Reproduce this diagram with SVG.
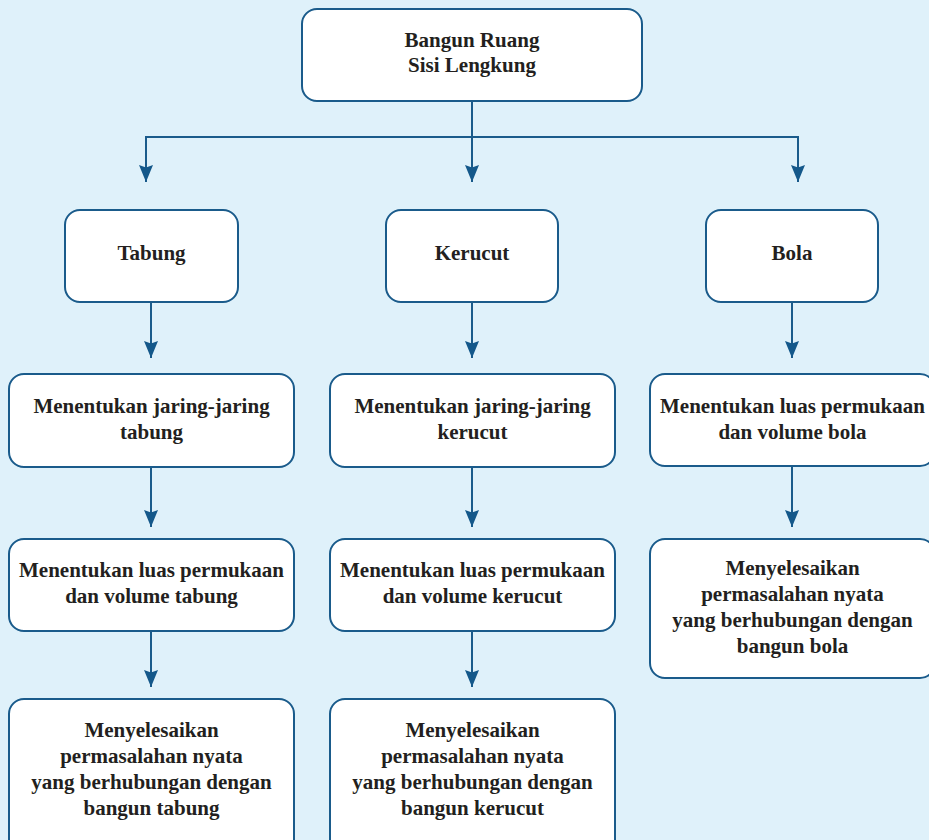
<svg xmlns="http://www.w3.org/2000/svg" width="929" height="840" viewBox="0 0 929 840">
<style>
.box{fill:#ffffff;stroke:#1a5b8b;stroke-width:2}
.t{font-family:"Liberation Serif","Times New Roman",serif;font-weight:bold;font-size:21px;fill:#231f20;text-anchor:middle}
.c{fill:none;stroke:#1a5b8b;stroke-width:2}
.a{fill:none;stroke:#1a5b8b;stroke-width:2;marker-end:url(#ah)}
</style>
<defs>
<marker id="ah" markerUnits="userSpaceOnUse" markerWidth="20" markerHeight="16" viewBox="0 -8 20 16" refX="17" refY="0" orient="auto">
<path d="M0,-7 L17,0 L0,7 L2.5,0 z" fill="#14588a"/>
</marker>
</defs>
<rect x="0" y="0" width="929" height="840" fill="#dff1fa"/>
<g id="connectors">
<path class="c" d="M146,137 L798,137"/>
<path class="a" d="M472,101 L472,182"/>
<path class="a" d="M146,136 L146,182"/>
<path class="a" d="M798,136 L798,182"/>
<path class="a" d="M151,302 L151,358"/>
<path class="a" d="M151,467 L151,527"/>
<path class="a" d="M151,631 L151,687"/>
<path class="a" d="M472,302 L472,358"/>
<path class="a" d="M472,467 L472,527"/>
<path class="a" d="M472,631 L472,687"/>
<path class="a" d="M792,302 L792,358"/>
<path class="a" d="M792,466 L792,527"/>
</g>
<g id="root">
<rect class="box" x="302" y="9" width="340" height="92" rx="15"/>
<text class="t" x="472" y="47">Bangun Ruang</text>
<text class="t" x="472" y="72">Sisi Lengkung</text>
</g>
<g id="tabung">
<rect class="box" x="65" y="210" width="173" height="92" rx="15"/>
<text class="t" x="151.5" y="260">Tabung</text>
</g>
<g id="kerucut">
<rect class="box" x="386" y="210" width="172" height="92" rx="15"/>
<text class="t" x="472" y="260">Kerucut</text>
</g>
<g id="bola">
<rect class="box" x="706" y="210" width="172" height="92" rx="15"/>
<text class="t" x="792" y="260">Bola</text>
</g>
<g id="tabung-jaring">
<rect class="box" x="9" y="374" width="285" height="93" rx="15"/>
<text class="t" x="151.5" y="413">Menentukan jaring-jaring</text>
<text class="t" x="151.5" y="439">tabung</text>
</g>
<g id="tabung-luas">
<rect class="box" x="9" y="539" width="285" height="92" rx="15"/>
<text class="t" x="151.5" y="577">Menentukan luas permukaan</text>
<text class="t" x="151.5" y="603">dan volume tabung</text>
</g>
<g id="tabung-masalah">
<rect class="box" x="9" y="699" width="285" height="160" rx="15"/>
<text class="t" x="151.5" y="737">Menyelesaikan</text>
<text class="t" x="151.5" y="763">permasalahan nyata</text>
<text class="t" x="151.5" y="789">yang berhubungan dengan</text>
<text class="t" x="151.5" y="815">bangun tabung</text>
</g>
<g id="kerucut-jaring">
<rect class="box" x="330" y="374" width="285" height="93" rx="15"/>
<text class="t" x="472.5" y="413">Menentukan jaring-jaring</text>
<text class="t" x="472.5" y="439">kerucut</text>
</g>
<g id="kerucut-luas">
<rect class="box" x="330" y="539" width="285" height="92" rx="15"/>
<text class="t" x="472.5" y="577">Menentukan luas permukaan</text>
<text class="t" x="472.5" y="603">dan volume kerucut</text>
</g>
<g id="kerucut-masalah">
<rect class="box" x="330" y="699" width="285" height="160" rx="15"/>
<text class="t" x="472.5" y="737">Menyelesaikan</text>
<text class="t" x="472.5" y="763">permasalahan nyata</text>
<text class="t" x="472.5" y="789">yang berhubungan dengan</text>
<text class="t" x="472.5" y="815">bangun kerucut</text>
</g>
<g id="bola-luas">
<rect class="box" x="650" y="374" width="285" height="92" rx="15"/>
<text class="t" x="792.5" y="413">Menentukan luas permukaan</text>
<text class="t" x="792.5" y="439">dan volume bola</text>
</g>
<g id="bola-masalah">
<rect class="box" x="650" y="539" width="285" height="139" rx="15"/>
<text class="t" x="792.5" y="575">Menyelesaikan</text>
<text class="t" x="792.5" y="601">permasalahan nyata</text>
<text class="t" x="792.5" y="627">yang berhubungan dengan</text>
<text class="t" x="792.5" y="653">bangun bola</text>
</g>
</svg>
